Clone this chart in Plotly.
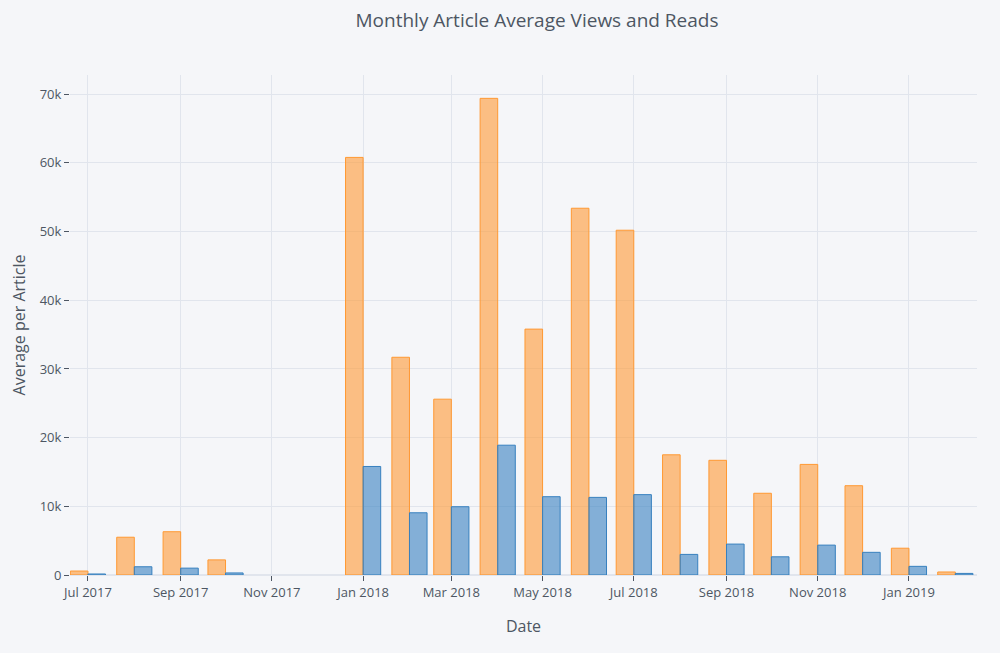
import plotly.graph_objects as go

# month start dates (Nov/Dec 2017 have no data)
months = ['2017-07-01', '2017-08-01', '2017-09-01', '2017-10-01',
          '2018-01-01', '2018-02-01', '2018-03-01', '2018-04-01',
          '2018-05-01', '2018-06-01', '2018-07-01', '2018-08-01',
          '2018-09-01', '2018-10-01', '2018-11-01', '2018-12-01',
          '2019-01-01', '2019-02-01']

avg_views = [580, 5500, 6300, 2200,
             60800, 31700, 25600, 69400,
             35800, 53400, 50200, 17500,
             16700, 11900, 16100, 13000,
             3900, 440]

avg_reads = [150, 1200, 1000, 300,
             15800, 9060, 9940, 18900,
             11400, 11300, 11700, 3000,
             4500, 2650, 4350, 3300,
             1260, 230]

fig = go.Figure()

fig.add_trace(go.Bar(x=months, y=avg_views, name='views',
                     marker=dict(color='rgba(255, 153, 51, 0.6)',
                                 line=dict(color='rgba(255, 153, 51, 1.0)', width=1))))
fig.add_trace(go.Bar(x=months, y=avg_reads, name='reads',
                     marker=dict(color='rgba(55, 128, 191, 0.6)',
                                 line=dict(color='rgba(55, 128, 191, 1.0)', width=1))))

axis_style = dict(showgrid=True, gridcolor='#E1E5ED', zerolinecolor='#E1E5ED',
                  tickfont=dict(color='#4D5663', size=13),
                  ticks='outside', ticklen=5, tickcolor='#4D5663', showline=False)

fig.update_layout(
    width=1000, height=653,
    title=dict(text='Monthly Article Average Views and Reads',
               x=0.537, xanchor='center', y=0.969, yanchor='middle',
               font=dict(color='#4D5663', size=19)),
    barmode='group',
    bargap=0.16,
    showlegend=False,
    paper_bgcolor='#F5F6F9',
    plot_bgcolor='#F5F6F9',
    font=dict(family='Open Sans', color='#4D5663'),
    margin=dict(l=70, r=23, t=75, b=78),
    xaxis=dict(title=dict(text='Date', standoff=21, font=dict(color='#4D5663', size=16)),
               type='date', dtick='M2', tickformat='%b %Y',
               tick0='2017-07-01', range=['2017-06-19', '2019-02-15 12:00'],
               **axis_style),
    yaxis=dict(title=dict(text='Average per Article', standoff=10,
                          font=dict(color='#4D5663', size=16)),
               range=[0, 72800], dtick=10000, **axis_style),
)

fig.write_html("out.html", config={'displayModeBar': False},
               post_script="document.body.style.margin='0';")
